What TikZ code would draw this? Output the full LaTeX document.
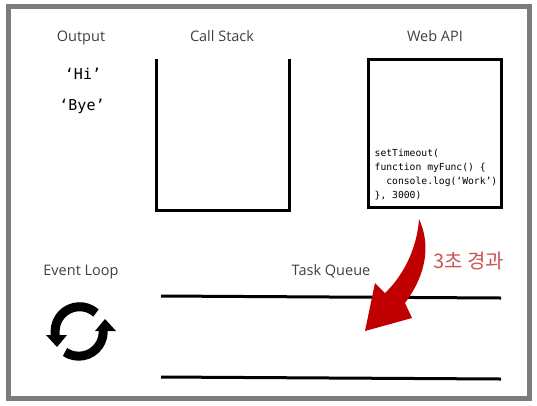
\documentclass[tikz,border=0pt]{standalone}
\usepackage{fontspec}
\setmainfont{Open Sans}
\newfontfamily\codefont{DejaVu Sans Mono}
\newfontfamily\krfont{Noto Sans CJK KR}
\definecolor{framegray}{HTML}{7F7B7B}
\definecolor{titlegray}{HTML}{404040}
\definecolor{arrowred}{HTML}{C00000}
\definecolor{labelred}{HTML}{CB5555}
\tikzset{
  titletext/.style={font=\fontsize{14.5}{17}\selectfont, text=titlegray, inner sep=0pt, anchor=base},
  outtext/.style={font=\codefont\fontsize{15}{18}\selectfont, text=black, inner sep=0pt},
  codetext/.style={font=\codefont\fontsize{9.7}{14}\selectfont, inner sep=0pt, align=left, anchor=south west},
  heavy/.style={line width=3pt, black},
  loopstroke/.style={line width=9pt, black}
}
\begin{document}
\begin{tikzpicture}[x=1pt,y=-1pt]
\useasboundingbox (0,0) rectangle (537,405);
\fill[white] (0,0) rectangle (537,405);
\node[draw=framegray, line width=5pt, outer sep=0pt, minimum width=521pt, minimum height=391.5pt, inner sep=0pt, anchor=north west] (frame) at (8.5,6.5) {};
\node[titletext] (output) at (81,41) {Output};
\node[titletext] (callstack) at (222,41) {Call Stack};
\node[titletext] (webapi) at (435,41) {Web API};
\node[titletext] (eventloop) at (81,275) {Event Loop};
\node[titletext] (taskqueue) at (331,275) {Task Queue};
\node[outtext] (hi) at (83,73.5) {‘Hi’};
\node[outtext] (bye) at (82,106) {‘Bye’};
% Call stack
\draw[heavy, line join=miter] (156,59) -- (156,210) -- (289,210) -- (289,59);
% Web API
\node[draw=black, line width=3pt, outer sep=0pt, minimum width=133pt, minimum height=148pt, inner sep=0pt, anchor=north west] (webbox) at (368.5,59.5) {};
\node[codetext] (code) at (374.5,200.5) {setTimeout(\\function myFunc() \{\\\ \ console.log(‘Work’)\\\}, 3000)};
% Task queue
\coordinate (q1a) at (161,296); \coordinate (q1b) at (501,298);
\coordinate (q2a) at (161,377); \coordinate (q2b) at (501,379);
\draw[heavy] (q1a) -- (q1b);
\draw[heavy] (q2a) -- (q2b);
% Red arrow
\fill[arrowred] (419,219) .. controls (430,243) and (428,272) .. (405,303)
  -- (412,318) -- (365,331) -- (375,283) -- (385,293)
  .. controls (402,277) and (417,250) .. (419,219) -- cycle;
\node[font=\krfont\fontsize{20}{22}\selectfont, text=labelred, inner sep=0pt] (delay) at (468.5,261) {3초 경과};
% Loop icon
\draw[loopstroke] (96,313) arc[start angle=-48, end angle=-180, radius=24.5] -- ++(0,5);
\fill[black] (46,335) -- (67,335) -- (57,347) -- cycle;
\draw[loopstroke] (65,352) arc[start angle=124, end angle=0, radius=24.5] -- ++(0,-5);
\fill[black] (95,331) -- (116,331) -- (105,319) -- cycle;
\end{tikzpicture}
\end{document}
